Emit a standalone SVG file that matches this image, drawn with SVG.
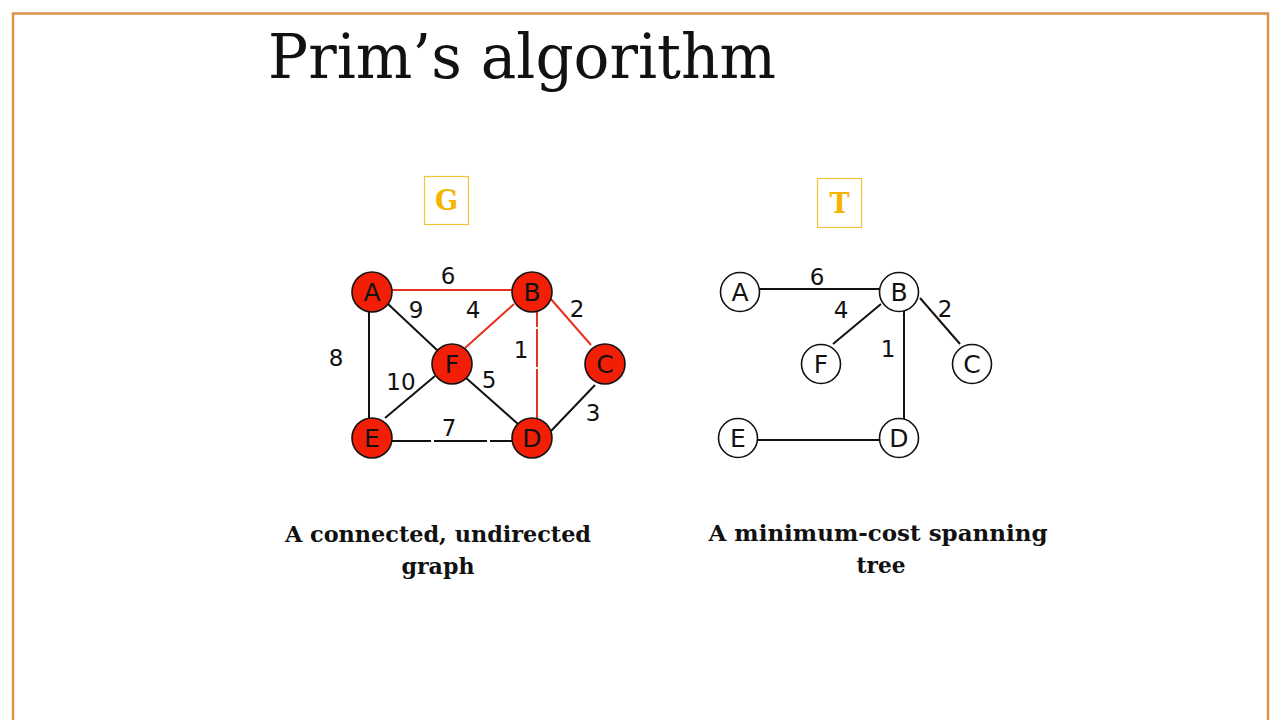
<svg xmlns="http://www.w3.org/2000/svg" width="1280" height="720" viewBox="0 0 1280 720">
  <style>
    .frame { fill: none; stroke: #DE9247; stroke-width: 2.5; }
    .title { font-family: "DejaVu Serif", "Liberation Serif", serif; font-size: 62px; fill: #111; }
    .caption { font-family: "DejaVu Serif", "Liberation Serif", serif; font-weight: bold; font-size: 23px; fill: #111; text-anchor: middle; }
    .tag rect { fill: #fff; stroke: #F2C438; stroke-width: 1.2; }
    .tag text { font-family: "DejaVu Serif", "Liberation Serif", serif; font-weight: bold; font-size: 27px; fill: #F4B400; text-anchor: middle; }
    .node circle { stroke: #111; stroke-width: 1.6; }
    .g circle { fill: #F21F06; }
    .t circle { fill: #fff; }
    .node text { font-family: "DejaVu Sans", Verdana, sans-serif; font-size: 25px; fill: #111; text-anchor: middle; dominant-baseline: central; }
    .edge { stroke-width: 2; fill: none; }
    .blk { stroke: #111; }
    .red { stroke: #E8301E; }
    .w { font-family: "DejaVu Sans", Verdana, sans-serif; font-size: 23px; fill: #111; text-anchor: middle; }
  </style>

  <!-- page frame -->
  <path class="frame" d="M13 722 V13.5 H1268 V722"/>

  <text class="title" x="268" y="78" textLength="508" lengthAdjust="spacingAndGlyphs">Prim’s algorithm</text>

  <!-- graph labels -->
  <g id="tag-G" class="tag">
    <rect x="424.5" y="176.5" width="44" height="48"/>
    <text x="446.5" y="210">G</text>
  </g>
  <g id="tag-T" class="tag">
    <rect x="817.5" y="178.5" width="44" height="49"/>
    <text x="839.5" y="213">T</text>
  </g>

  <!-- connectors -->
  <g id="edges">
    <!-- graph G -->
    <line class="edge red" x1="392" y1="290" x2="512" y2="290"/>
    <line class="edge blk" x1="388" y1="304" x2="437" y2="350"/>
    <line class="edge red" x1="465" y1="348" x2="514" y2="304"/>
    <line class="edge red" x1="537" y1="312" x2="537" y2="327"/>
    <line class="edge red" x1="537" y1="329" x2="537" y2="367"/>
    <line class="edge red" x1="537" y1="369" x2="537" y2="418"/>
    <line class="edge red" x1="550" y1="298" x2="591" y2="345"/>
    <line class="edge blk" x1="369" y1="311" x2="369" y2="418"/>
    <line class="edge blk" x1="385" y1="418" x2="435" y2="376"/>
    <line class="edge blk" x1="465" y1="377" x2="518" y2="424"/>
    <line class="edge blk" x1="392" y1="441" x2="431" y2="441"/>
    <line class="edge blk" x1="434" y1="441" x2="487" y2="441"/>
    <line class="edge blk" x1="490" y1="441" x2="512" y2="441"/>
    <line class="edge blk" x1="551" y1="431" x2="595" y2="385"/>

    <!-- tree T -->
    <line class="edge blk" x1="759" y1="289" x2="880" y2="289"/>
    <line class="edge blk" x1="881" y1="304" x2="833" y2="344"/>
    <line class="edge blk" x1="920" y1="298" x2="960" y2="344"/>
    <line class="edge blk" x1="904" y1="311" x2="904" y2="419"/>
    <line class="edge blk" x1="757" y1="440" x2="880" y2="440"/>
  </g>

  <!-- edge weights -->
  <g id="weights-G">
    <text class="w" x="448" y="284">6</text>
    <text class="w" x="416" y="318">9</text>
    <text class="w" x="473" y="318">4</text>
    <text class="w" x="577" y="317">2</text>
    <text class="w" x="521" y="358">1</text>
    <text class="w" x="336" y="366">8</text>
    <text class="w" x="401" y="390">10</text>
    <text class="w" x="489" y="388">5</text>
    <text class="w" x="449" y="436">7</text>
    <text class="w" x="593" y="421">3</text>
  </g>
  <g id="weights-T">
    <text class="w" x="817" y="285">6</text>
    <text class="w" x="841" y="318">4</text>
    <text class="w" x="945" y="317">2</text>
    <text class="w" x="888" y="357">1</text>
  </g>

  <!-- graph G nodes -->
  <g id="G-A" class="node g"><circle cx="372" cy="292" r="20"/><text x="372" y="292">A</text></g>
  <g id="G-B" class="node g"><circle cx="532" cy="292" r="20"/><text x="532" y="292">B</text></g>
  <g id="G-C" class="node g"><circle cx="605" cy="364" r="20"/><text x="605" y="364">C</text></g>
  <g id="G-F" class="node g"><circle cx="452" cy="364" r="20"/><text x="452" y="364">F</text></g>
  <g id="G-E" class="node g"><circle cx="372" cy="438" r="20"/><text x="372" y="438">E</text></g>
  <g id="G-D" class="node g"><circle cx="532" cy="438" r="20"/><text x="532" y="438">D</text></g>

  <!-- tree T nodes -->
  <g id="T-A" class="node t"><circle cx="740" cy="292" r="19.5"/><text x="740" y="292">A</text></g>
  <g id="T-B" class="node t"><circle cx="899" cy="292" r="19.5"/><text x="899" y="292">B</text></g>
  <g id="T-F" class="node t"><circle cx="821" cy="364" r="19.5"/><text x="821" y="364">F</text></g>
  <g id="T-C" class="node t"><circle cx="972" cy="364" r="19.5"/><text x="972" y="364">C</text></g>
  <g id="T-E" class="node t"><circle cx="738" cy="438" r="19.5"/><text x="738" y="438">E</text></g>
  <g id="T-D" class="node t"><circle cx="899" cy="438" r="19.5"/><text x="899" y="438">D</text></g>

  <!-- captions -->
  <text class="caption" x="438" y="542" textLength="306" lengthAdjust="spacingAndGlyphs">A connected, undirected</text>
  <text class="caption" x="438" y="574" textLength="73" lengthAdjust="spacingAndGlyphs">graph</text>
  <text class="caption" x="878" y="541" textLength="339" lengthAdjust="spacingAndGlyphs">A minimum-cost spanning</text>
  <text class="caption" x="881" y="573" textLength="49" lengthAdjust="spacingAndGlyphs">tree</text>
</svg>
